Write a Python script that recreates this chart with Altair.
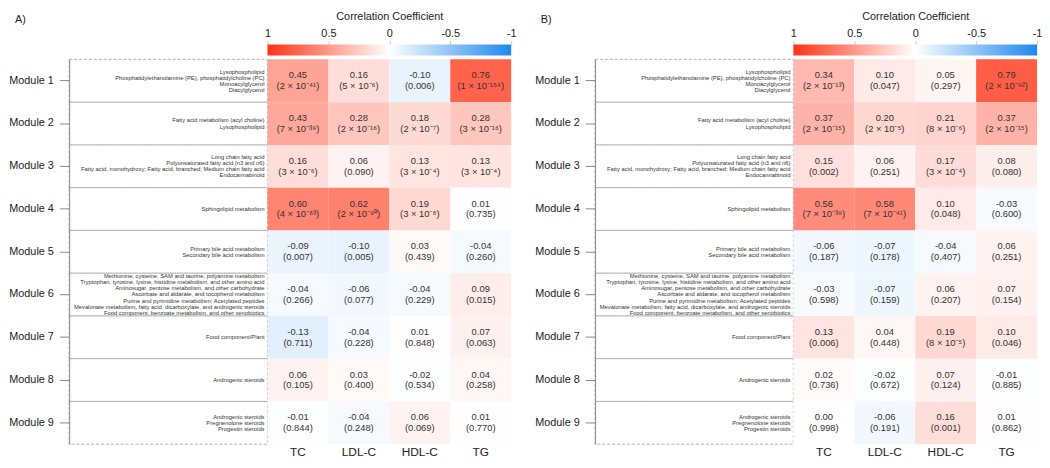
import altair as alt
import pandas as pd

MODULES = [f"Module {i}" for i in range(1, 10)]
LIPIDS = ["TC", "LDL-C", "HDL-C", "TG"]
LEGEND_TICKS = [1, 0.5, 0, -0.5, -1]

DESCRIPTIONS = [
    ["Lysophospholipid", "Phosphatidylethanolamine (PE), phosphatidylcholine (PC)", "Monoacylglycerol", "Diacylglycerol"],
    ["Fatty acid metabolism (acyl choline)", "Lysophospholipid"],
    ["Long chain fatty acid", "Polyunsaturated fatty acid (n3 and n6)",
     "Fatty acid, monohydroxy; Fatty acid, branched; Medium chain fatty acid", "Endocannabinoid"],
    ["Sphingolipid metabolism"],
    ["Primary bile acid metabolism", "Secondary bile acid metabolism"],
    ["Methionine, cysteine, SAM and taurine, polyamine metabolism",
     "Tryptophan, tyrosine, lysine, histidine metabolism, and other amino acid",
     "Aminosugar, pentose metabolism, and other carbohydrate",
     "Ascorbate and aldarate, and tocopherol metabolism",
     "Purine and pyrimidine metabolism; Acetylated peptides",
     "Mevalonate metabolism, fatty acid, dicarboxylate, and androgenic steroids",
     "Food component, benzoate metabolism, and other xenobiotics"],
    ["Food component/Plant"],
    ["Androgenic steroids"],
    ["Androgenic steroids", "Pregnenolone steroids", "Progestin steroids"],
]

A_R = [
    [0.45, 0.16, -0.10, 0.76],
    [0.43, 0.28, 0.18, 0.28],
    [0.16, 0.06, 0.13, 0.13],
    [0.60, 0.62, 0.19, 0.01],
    [-0.09, -0.10, 0.03, -0.04],
    [-0.04, -0.06, -0.04, 0.09],
    [-0.13, -0.04, 0.01, 0.07],
    [0.06, 0.03, -0.02, 0.04],
    [-0.01, -0.04, 0.06, 0.01],
]
A_P = [
    ["2 × 10⁻⁴¹", "5 × 10⁻⁶", "0.006", "1 × 10⁻¹⁵⁴"],
    ["7 × 10⁻³⁹", "2 × 10⁻¹⁶", "2 × 10⁻⁷", "3 × 10⁻¹⁶"],
    ["3 × 10⁻⁶", "0.090", "3 × 10⁻⁴", "3 × 10⁻⁴"],
    ["4 × 10⁻⁸³", "2 × 10⁻⁹⁰", "3 × 10⁻⁸", "0.735"],
    ["0.007", "0.005", "0.439", "0.260"],
    ["0.266", "0.077", "0.229", "0.015"],
    ["0.711", "0.228", "0.848", "0.063"],
    ["0.105", "0.400", "0.534", "0.258"],
    ["0.844", "0.248", "0.069", "0.770"],
]

B_R = [
    [0.34, 0.10, 0.05, 0.79],
    [0.37, 0.20, 0.21, 0.37],
    [0.15, 0.06, 0.17, 0.08],
    [0.56, 0.58, 0.10, -0.03],
    [-0.06, -0.07, -0.04, 0.06],
    [-0.03, -0.07, 0.06, 0.07],
    [0.13, 0.04, 0.19, 0.10],
    [0.02, -0.02, 0.07, -0.01],
    [0.00, -0.06, 0.16, 0.01],
]
B_P = [
    ["2 × 10⁻¹³", "0.047", "0.297", "2 × 10⁻⁹²"],
    ["2 × 10⁻¹⁵", "2 × 10⁻⁵", "8 × 10⁻⁶", "2 × 10⁻¹⁵"],
    ["0.002", "0.251", "3 × 10⁻⁴", "0.080"],
    ["7 × 10⁻³⁹", "7 × 10⁻⁴¹", "0.048", "0.600"],
    ["0.187", "0.178", "0.407", "0.251"],
    ["0.598", "0.159", "0.207", "0.154"],
    ["0.006", "0.448", "8 × 10⁻⁵", "0.046"],
    ["0.736", "0.672", "0.124", "0.885"],
    ["0.998", "0.191", "0.001", "0.862"],
]

RED = "#ff3214"
BLUE = "#1e88ee"
W = 448
H = 390
BOX_W = 201
DESC_LH = 6.2
CELL_LH = 11


def panel(letter, R, P):
    rows = []
    for i, m in enumerate(MODULES):
        for j, lip in enumerate(LIPIDS):
            rows.append({"module": m, "lipid": lip, "r": R[i][j],
                         "label": f"{R[i][j]:.2f}\n({P[i][j]})"})
    cells = pd.DataFrame(rows)
    desc = pd.DataFrame({"module": MODULES,
                         "desc": ["\n".join(d) for d in DESCRIPTIONS],
                         "n": [len(d) for d in DESCRIPTIONS]})

    yscale = alt.Scale(domain=MODULES, paddingInner=0, paddingOuter=0)
    yaxis = alt.Axis(title=None, labelFontSize=11, labelColor="#222",
                     tickSize=10, tickColor="#888", domainColor="#888",
                     labelPadding=6, grid=False)
    Y = alt.Y("module:N", sort=MODULES, scale=yscale, axis=yaxis)
    xscale = alt.Scale(domain=LIPIDS, range=[BOX_W, W], paddingInner=0, paddingOuter=0)

    boxes = alt.Chart(desc).mark_rect(
        fillOpacity=0, stroke="#a8a8a8", strokeDash=[3, 2], strokeWidth=0.9
    ).encode(x=alt.value(0), x2=alt.value(BOX_W), y=Y)

    desc_layers = []
    for n in sorted(set(len(d) for d in DESCRIPTIONS)):
        desc_layers.append(
            alt.Chart(desc).transform_filter(alt.datum.n == n).mark_text(
                align="right", baseline="middle", fontSize=5.9, lineHeight=DESC_LH,
                lineBreak="\n", color="#333", dy=-(n - 1) * DESC_LH / 2
            ).encode(x=alt.value(BOX_W - 3), y=Y, text="desc:N")
        )

    heat = alt.Chart(cells).mark_rect().encode(
        x=alt.X("lipid:N", sort=LIPIDS, scale=xscale,
                axis=alt.Axis(orient="bottom", title=None, labelAngle=0, ticks=False,
                              domain=False, labelFontSize=12, labelColor="#222",
                              labelPadding=3)),
        y=Y,
        color=alt.Color("r:Q", scale=alt.Scale(domain=[-1, 0, 1], range=[BLUE, "#ffffff", RED],
                                               interpolate="rgb"), legend=None),
    )
    cell_text = alt.Chart(cells).mark_text(
        fontSize=9.5, lineBreak="\n", lineHeight=CELL_LH, color="#333", dy=-CELL_LH / 2
    ).encode(
        x=alt.X("lipid:N", sort=LIPIDS, scale=xscale, axis=None),
        y=Y,
        text="label:N",
    )
    grad = alt.LinearGradient(
        gradient="linear", x1=0, x2=1, y1=0, y2=0,
        stops=[alt.GradientStop(color=RED, offset=0),
               alt.GradientStop(color="#ffffff", offset=0.5),
               alt.GradientStop(color=BLUE, offset=1)],
    )
    colorbar = alt.Chart(pd.DataFrame({"lo": [LEGEND_TICKS[0]], "hi": [LEGEND_TICKS[-1]]})).mark_rect(
        fill=grad
    ).encode(
        x=alt.X("lo:Q", scale=alt.Scale(domain=[1, -1], range=[BOX_W, W], nice=False, zero=False),
                axis=alt.Axis(orient="top", offset=15, values=LEGEND_TICKS,
                              labelExpr="'' + datum.value", labelFlush=False, labelOverlap=False,
                              domain=False, tickSize=4, tickColor="#ccc", labelPadding=2,
                              labelFontSize=11, labelColor="#222", grid=False,
                              title="Correlation Coefficient", titleFontSize=11,
                              titleFontWeight="normal", titleColor="#222", titlePadding=6)),
        x2="hi:Q",
        y=alt.value(-15), y2=alt.value(-4),
    )
    letter_mark = alt.Chart(pd.DataFrame({"t": [letter]})).mark_text(
        align="left", baseline="middle", fontSize=11, color="#222"
    ).encode(x=alt.value(-55), y=alt.value(-40), text="t:N")

    return alt.layer(boxes, heat, *desc_layers, cell_text, colorbar, letter_mark).resolve_scale(
        x="independent").resolve_axis(x="independent").properties(width=W, height=H)


chart = alt.hconcat(panel("A)", A_R, A_P), panel("B)", B_R, B_P), spacing=18,
                    padding=0).configure(font="Liberation Sans").configure_view(stroke=None)

chart.save("out.html", embed_options={"renderer": "svg", "actions": False})
